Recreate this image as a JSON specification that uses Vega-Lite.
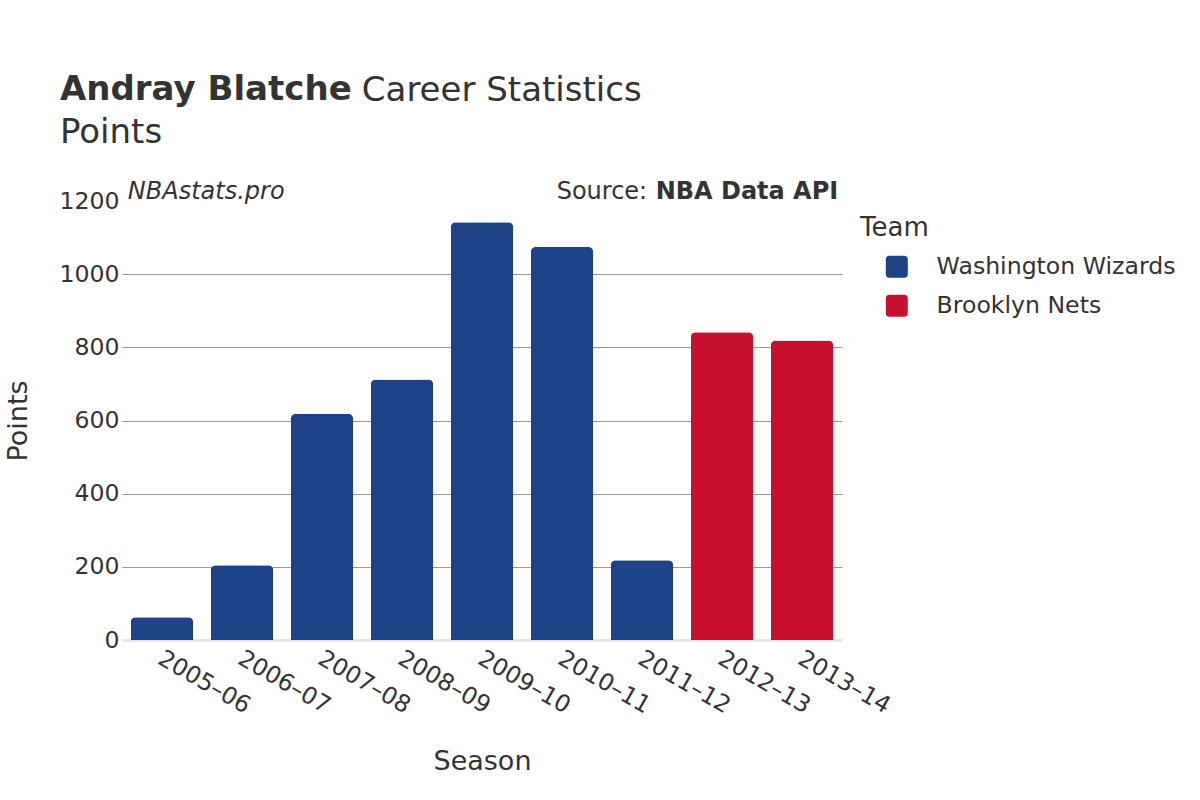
{
  "$schema": "https://vega.github.io/schema/vega-lite/v6.json",
  "width": 720,
  "height": 439,
  "autosize": {"type": "none"},
  "padding": {"left": 122, "top": 201, "right": 358, "bottom": 160},
  "background": "white",
  "config": {
    "font": "DejaVu Sans",
    "view": {"stroke": null},
    "text": {"font": "DejaVu Sans", "color": "#333333"}
  },
  "title": {
    "text": "Andray Blatche",
    "subtitle": "Points",
    "anchor": "start",
    "frame": "group",
    "font": "DejaVu Sans",
    "fontSize": 34,
    "fontWeight": "bold",
    "color": "#333333",
    "subtitleFont": "DejaVu Sans",
    "subtitleFontSize": 34,
    "subtitleColor": "#333333",
    "subtitlePadding": 9,
    "dx": -62,
    "dy": 106,
    "offset": 30
  },
  "datasets": {
    "stats": [
      {"Season": "2005–06", "Team": "Washington Wizards", "Points": 62},
      {"Season": "2006–07", "Team": "Washington Wizards", "Points": 204},
      {"Season": "2007–08", "Team": "Washington Wizards", "Points": 618},
      {"Season": "2008–09", "Team": "Washington Wizards", "Points": 712},
      {"Season": "2009–10", "Team": "Washington Wizards", "Points": 1142},
      {"Season": "2010–11", "Team": "Washington Wizards", "Points": 1074},
      {"Season": "2011–12", "Team": "Washington Wizards", "Points": 218},
      {"Season": "2012–13", "Team": "Brooklyn Nets", "Points": 841},
      {"Season": "2013–14", "Team": "Brooklyn Nets", "Points": 819}
    ]
  },
  "layer": [
    {
      "data": {"name": "stats"},
      "mark": {"type": "bar", "cornerRadiusEnd": 5},
      "encoding": {
        "x": {
          "field": "Season",
          "type": "nominal",
          "sort": null,
          "scale": {"paddingInner": 0.22, "paddingOuter": 0.11},
          "axis": {
            "title": "Season",
            "titleFontSize": 27,
            "titleFontWeight": "normal",
            "titleColor": "#333333",
            "titlePadding": 31,
            "labelAngle": 30,
            "labelFontSize": 23.6,
            "labelColor": "#333333",
            "labelPadding": 6,
            "labelOffset": 4,
            "ticks": false,
            "domainColor": "#e6e6e6",
            "domainWidth": 3,
            "grid": false
          }
        },
        "y": {
          "field": "Points",
          "type": "quantitative",
          "scale": {"domain": [0, 1200]},
          "axis": {
            "title": "Points",
            "titleFontSize": 27,
            "titleFontWeight": "normal",
            "titleColor": "#333333",
            "titlePadding": 26,
            "values": [0, 200, 400, 600, 800, 1000, 1200],
            "format": "d",
            "labelFontSize": 23.6,
            "labelColor": "#333333",
            "labelPadding": 3,
            "ticks": false,
            "domain": false,
            "gridColor": {"condition": {"test": "datum.value === 0 || datum.value === 1200", "value": "transparent"}, "value": "#999999"},
            "gridWidth": 1
          }
        },
        "color": {
          "field": "Team",
          "type": "nominal",
          "scale": {
            "domain": ["Washington Wizards", "Brooklyn Nets"],
            "range": ["#1d4288", "#c8102e"]
          },
          "legend": {
            "title": "Team",
            "orient": "none",
            "legendX": 738,
            "legendY": 14,
            "titleFontSize": 26,
            "titleFontWeight": "normal",
            "titleColor": "#333333",
            "titlePadding": 14,
            "labelFontSize": 23.6,
            "labelColor": "#333333",
            "labelLimit": 400,
            "labelOffset": 28,
            "symbolOffset": 25,
            "symbolSize": 484,
            "symbolType": "M -0.65 -1 L 0.65 -1 Q 1 -1 1 -0.65 L 1 0.65 Q 1 1 0.65 1 L -0.65 1 Q -1 1 -1 0.65 L -1 -0.65 Q -1 -1 -0.65 -1 Z",
            "symbolStrokeWidth": 0,
            "symbolOpacity": 1,
            "rowPadding": 14
          }
        }
      }
    },
    {
      "data": {"values": [{"note": "Career Statistics"}]},
      "mark": {"type": "text", "align": "left", "baseline": "alphabetic", "fontSize": 34, "dx": 231, "dy": -100, "color": "#333333"},
      "encoding": {
        "x": {"datum": "2005–06", "bandPosition": 0},
        "y": {"datum": 1200},
        "text": {"field": "note"}
      }
    },
    {
      "data": {"values": [{"note": "NBAstats.pro"}]},
      "mark": {"type": "text", "align": "left", "baseline": "alphabetic", "fontSize": 24, "fontStyle": "italic", "dx": -3, "dy": -2, "color": "#333333"},
      "encoding": {
        "x": {"datum": "2005–06", "bandPosition": 0},
        "y": {"datum": 1200},
        "text": {"field": "note"}
      }
    },
    {
      "data": {"values": [{"note": "NBA Data API"}]},
      "mark": {"type": "text", "align": "right", "baseline": "alphabetic", "fontSize": 24, "fontWeight": "bold", "dx": 5, "dy": -2, "color": "#333333"},
      "encoding": {
        "x": {"datum": "2013–14", "bandPosition": 1},
        "y": {"datum": 1200},
        "text": {"field": "note"}
      }
    },
    {
      "data": {"values": [{"note": "Source:"}]},
      "mark": {"type": "text", "align": "right", "baseline": "alphabetic", "fontSize": 24, "dx": -186, "dy": -2, "color": "#333333"},
      "encoding": {
        "x": {"datum": "2013–14", "bandPosition": 1},
        "y": {"datum": 1200},
        "text": {"field": "note"}
      }
    }
  ]
}
